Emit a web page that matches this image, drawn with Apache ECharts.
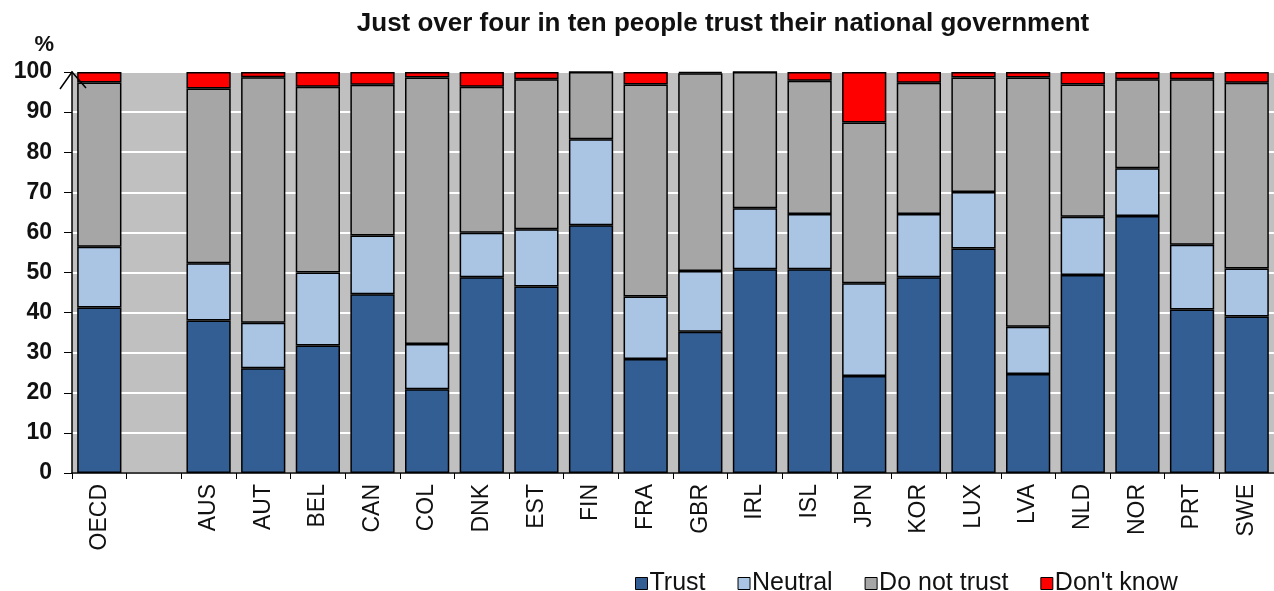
<!DOCTYPE html>
<html>
<head>
<meta charset="utf-8">
<script src="https://cdn.jsdelivr.net/npm/echarts@6/dist/echarts.min.js"></script>
<style>html,body{margin:0;padding:0;background:#fff;}#c{width:1274px;height:591px;}</style>
</head>
<body>
<div id="c"></div>
<script>
const categories = ['OECD','', 'AUS','AUT','BEL','CAN','COL','DNK','EST','FIN','FRA','GBR','IRL','ISL','JPN','KOR','LUX','LVA','NLD','NOR','PRT','SWE'];
const trust     = [41.3,'-',38.0,26.1,31.8,44.6,20.9,48.8,46.5,61.8,28.4,35.2,50.8,50.8,24.2,48.8,56.0,24.7,49.4,64.1,40.8,39.0];
const neutral   = [15.1,'-',14.3,11.4,18.2,14.6,11.3,11.1,14.3,21.4,15.6,15.2,15.2,13.8,23.1,15.8,14.1,11.8,14.5,11.9,16.1,12.0];
const doNotTrust= [41.0,'-',43.6,61.2,46.3,37.6,66.4,36.4,37.4,16.8,52.9,49.3,34.0,33.2,40.1,32.7,28.5,62.1,33.0,22.2,41.3,46.3];
const dontKnow  = [2.6,'-',4.1,1.3,3.7,3.2,1.4,3.7,1.8,0,3.1,0.3,0,2.2,12.6,2.7,1.4,1.4,3.1,1.8,1.8,2.7];
const yTicks = [0,10,20,30,40,50,60,70,80,90,100];

const chart = echarts.init(document.getElementById('c'));
const font = 'Liberation Sans, Arial, sans-serif';
const G = {left:72, right:0, top:72, bottom:118};
function mk(name, data, color){
  return {name, type:'bar', stack:'s', data, barCategoryGap:'19%',
    itemStyle:{color, borderColor:'#000', borderWidth:1.5}, emphasis:{disabled:true}};
}
chart.setOption({
  animation:false,
  textStyle:{fontFamily:font},
  title:{text:'Just over four in ten people trust their national government', left:718, textAlign:'center', top:6,
    textStyle:{fontFamily:font, fontSize:26, fontWeight:'bold', color:'#111'}},
  legend:{left:630, top:566, itemWidth:12, itemHeight:12, itemGap:32,
    textStyle:{fontFamily:font, fontSize:25, color:'#111', padding:[0,0,0,-3]},
    data:[{name:'Trust',icon:'rect'},{name:'Neutral',icon:'rect'},{name:'Do not trust',icon:'rect'},{name:"Don't know",icon:'rect'}],
    itemStyle:{borderColor:'#000', borderWidth:1}},
  grid:Object.assign({show:true, backgroundColor:'#C0C0C0', borderWidth:0}, G),
  graphic:[{type:'polyline', silent:true, z:100,
    shape:{points:[[G.left-12,G.top+17],[G.left,G.top],[G.left+14,G.top+16]]},
    style:{stroke:'#000', lineWidth:1.5, fill:null}}],
  xAxis:{type:'category', data:categories,
    axisLine:{lineStyle:{color:'#000', width:1.5}},
    axisTick:{show:true, length:6, lineStyle:{color:'#000'}},
    axisLabel:{rotate:90, margin:11, fontSize:23, color:'#111', fontFamily:font, interval:0}},
  yAxis:{type:'value', min:0, max:100, interval:10,
    name:'%', nameLocation:'end', nameGap:16,
    nameTextStyle:{fontFamily:font, fontSize:22, fontWeight:'bold', color:'#111', align:'right', padding:[0,18,0,0]},
    axisLine:{show:true, lineStyle:{color:'#000', width:1.5}},
    axisTick:{show:true, length:8, lineStyle:{color:'#000'}},
    axisLabel:{margin:20, fontSize:23, fontWeight:'bold', color:'#111', fontFamily:font,
      formatter:v=> yTicks.includes(v) ? String(v) : ''},
    splitLine:{show:true, lineStyle:{color:'#fff', width:2}}},
  series:[
    mk('Trust', trust, '#335E94'),
    mk('Neutral', neutral, '#A9C5E3'),
    mk('Do not trust', doNotTrust, '#A6A6A6'),
    mk("Don't know", dontKnow, '#FF0000')
  ]
});
</script>
</body>
</html>
